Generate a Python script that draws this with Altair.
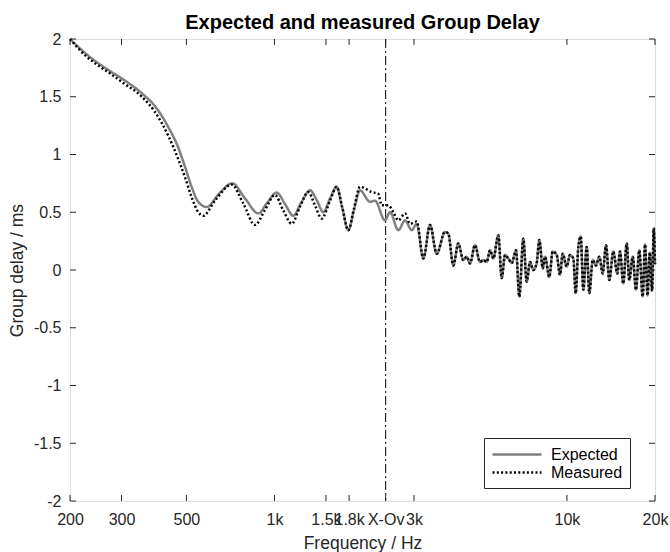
import altair as alt
import pandas as pd

# ---- data ----
exp_f = [200, 225, 250, 275, 300, 352, 390, 434, 469, 495, 521, 549, 587, 646, 718, 793, 881, 943,
         1018, 1087, 1160, 1233, 1323, 1398, 1469, 1549, 1632, 1702, 1789, 1870, 1961, 2122, 2206,
         2388, 2483, 2652, 2796, 2947, 3064, 3229, 3403, 3588, 3829, 3930, 4088, 4252, 4423, 4542,
         4662, 4849, 5043, 5176, 5316, 5458, 5602, 5826, 5984, 6142, 6302, 6473, 6696, 6872, 7092,
         7284, 7476, 7674, 7882, 8046, 8265, 8414, 8702, 8940, 9225, 9468, 9671, 9982, 10245, 10515,
         10715, 10937, 11145, 11375, 11683, 11925, 12247, 12570, 12902, 13250, 13600, 13958, 14402,
         14862, 15180, 15582, 16004, 16336, 16780, 17220, 17672, 18154, 18490, 18860, 19200, 19550,
         19800, 20000]
exp_v = [2.00, 1.88, 1.79, 1.72, 1.66, 1.53, 1.42, 1.235, 1.06, 0.89, 0.72, 0.59, 0.545, 0.66, 0.75,
         0.62, 0.49, 0.58, 0.67, 0.57, 0.47, 0.58, 0.69, 0.60, 0.50, 0.62, 0.72, 0.55, 0.345, 0.52,
         0.69, 0.59, 0.60, 0.43, 0.50, 0.345, 0.43, 0.345, 0.40, 0.10, 0.39, 0.14, 0.33, 0.315, 0.04,
         0.23, 0.086, 0.115, 0.057, 0.215, 0.07, 0.086, 0.07, 0.17, 0.10, 0.30, -0.07, 0.13, 0.10,
         0.06, 0.17, -0.23, 0.27, -0.10, 0.07, 0.0, 0.06, 0.26, 0.015, 0.115, -0.06, 0.16, 0.13,
         -0.04, 0.14, 0.03, 0.13, 0.10, -0.20, 0.20, 0.29, -0.17, 0.20, -0.20, 0.086, 0.04, 0.115,
         -0.03, 0.215, -0.086, 0.16, -0.03, 0.16, -0.115, 0.23, -0.086, 0.115, -0.17, 0.17, -0.23,
         0.22, -0.22, 0.15, -0.18, 0.36, 0.05]

meas_low_f = [200, 225, 250, 275, 300, 352, 390, 434, 469, 495, 521, 549, 571, 626, 714, 781, 858,
              928, 1004, 1070, 1146, 1223, 1305, 1376, 1451, 1549, 1632, 1702, 1789, 1870, 1961,
              2151, 2264, 2326, 2451, 2549, 2652, 2796, 2908, 3064]
meas_low_v = [2.00, 1.86, 1.77, 1.70, 1.63, 1.50, 1.37, 1.16, 0.96, 0.80, 0.63, 0.50, 0.47, 0.60,
              0.74, 0.58, 0.39, 0.52, 0.65, 0.52, 0.40, 0.55, 0.675, 0.56, 0.445, 0.60, 0.72, 0.55,
              0.345, 0.53, 0.72, 0.675, 0.66, 0.56, 0.56, 0.50, 0.43, 0.49, 0.40, 0.42]
# above ~3.1 kHz the measured curve lies on the expected one
meas_f = meas_low_f + [f for f in exp_f if f > 3100]
meas_v = meas_low_v + [v for f, v in zip(exp_f, exp_v) if f > 3100]

series_names = ["Expected", "Measured"]
series_colors = ["#808080", "#000000"]

x_ticks = [200, 300, 500, 1000, 1500, 1800, 2400, 3000, 10000, 20000]
x_tick_labels = ["200", "300", "500", "1k", "1.5k", "1.8k", "X-Ov", "3k", "10k", "20k"]
y_ticks = [-2, -1.5, -1, -0.5, 0, 0.5, 1, 1.5, 2]
y_tick_labels = ["-2", "-1.5", "-1", "-0.5", "0", "0.5", "1", "1.5", "2"]
xover_freq = [2400]

FONT = "Liberation Sans"
AX = "#262626"

df = pd.DataFrame({
    "f": exp_f + meas_f,
    "v": exp_v + meas_v,
    "series": ["Expected"] * len(exp_f) + ["Measured"] * len(meas_f),
})

x_expr = " : ".join(f"datum.value == {v} ? '{l}'" for v, l in zip(x_ticks, x_tick_labels)) + " : ''"
y_expr = " : ".join(f"datum.value == {v} ? '{l}'" for v, l in zip(y_ticks, y_tick_labels)) + " : ''"

xscale = alt.Scale(type="log", domain=[200, 20000], nice=False)
yscale = alt.Scale(domain=[-2, 2], nice=False)

leg = alt.Legend(
    title=None, orient="none", legendX=414, legendY=399, direction="vertical",
    strokeColor=AX, fillColor="white", padding=7, symbolType="M-1,0H5.125", symbolSize=256,
    symbolStrokeWidth=2.5, labelFontSize=16, labelFont=FONT, labelColor="black",
    rowPadding=0, labelOffset=41, cornerRadius=0,
)

lines = alt.Chart(df).mark_line(strokeWidth=2.5, interpolate="monotone").encode(
    x=alt.X("f:Q", scale=xscale, axis=alt.Axis(
        values=x_ticks, labelExpr=x_expr, title="Frequency / Hz", grid=False, ticks=False,
        domain=False, labelOverlap=False, labelFlush=False, labelPadding=10, titlePadding=7,
        labelFontSize=16, titleFontSize=17.5, labelFont=FONT, titleFont=FONT,
        labelColor=AX, titleColor=AX, titleFontWeight="normal")),
    y=alt.Y("v:Q", scale=yscale, axis=alt.Axis(
        values=y_ticks, labelExpr=y_expr, title="Group delay / ms", grid=False, ticks=False,
        domain=False, labelOverlap=False, labelFlush=False, labelPadding=9, titlePadding=7,
        labelFontSize=16, titleFontSize=17.5, labelFont=FONT, titleFont=FONT,
        labelColor=AX, titleColor=AX, titleFontWeight="normal")),
    color=alt.Color("series:N", scale=alt.Scale(domain=series_names, range=series_colors), legend=leg),
    strokeDash=alt.StrokeDash("series:N", scale=alt.Scale(domain=series_names, range=[[1, 0], [2, 2.3]]), legend=leg),
    order=alt.Order("f:Q"),
)

xover = alt.Chart(pd.DataFrame({"f": xover_freq})).mark_rule(
    color="black", strokeWidth=1, strokeDash=[9, 3, 2, 3]).encode(x="f:Q")

xt = pd.DataFrame({"f": x_ticks})
yt = pd.DataFrame({"v": y_ticks})
tick_style = dict(color=AX, strokeWidth=1)
bottom_ticks = alt.Chart(xt).mark_rule(**tick_style).encode(x="f:Q", y=alt.datum(-2), y2=alt.datum(-1.948))
top_ticks = alt.Chart(xt).mark_rule(**tick_style).encode(x="f:Q", y=alt.datum(2), y2=alt.datum(1.948))
left_ticks = alt.Chart(yt).mark_rule(**tick_style).encode(y="v:Q", x=alt.datum(200), x2=alt.datum(209.7))
right_ticks = alt.Chart(yt).mark_rule(**tick_style).encode(y="v:Q", x=alt.datum(20000), x2=alt.datum(19077))

chart = alt.layer(xover, lines, bottom_ticks, top_ticks, left_ticks, right_ticks).properties(
    width=585, height=462,
    padding={"left": 70, "top": 39, "right": 15, "bottom": 51},
    autosize=alt.AutoSizeParams(type="none"),
    title=alt.TitleParams("Expected and measured Group Delay", font=FONT, fontSize=20,
                          fontWeight="bold", color="black", anchor="middle", offset=5, dy=7),
).configure_view(stroke=AX, strokeWidth=1).configure(background="white")

chart.save("out.html", embed_options={"renderer": "svg", "actions": False})
